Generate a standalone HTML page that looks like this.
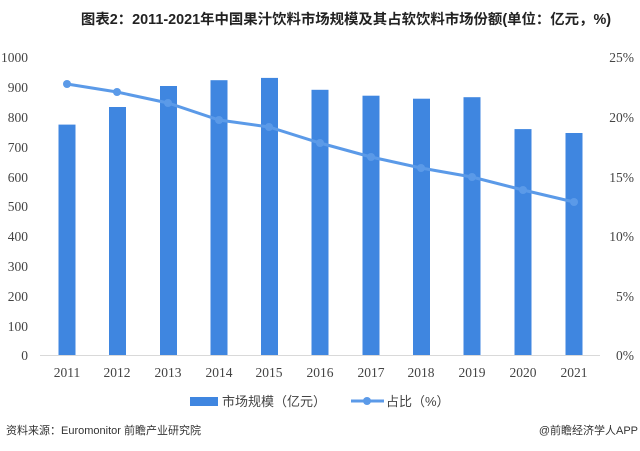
<!DOCTYPE html>
<html><head><meta charset="utf-8"><style>
body{margin:0;background:#fff;width:640px;height:446px;overflow:hidden}
</style></head><body>
<svg width="640" height="446" xmlns="http://www.w3.org/2000/svg">
<text x="346" y="24" text-anchor="middle" font-family="'Liberation Sans','Noto Sans CJK SC',sans-serif" font-size="14.4" font-weight="bold" fill="#222">图表2：2011-2021年中国果汁饮料市场规模及其占软饮料市场份额(单位：亿元，%)</text>
<g font-family="'Liberation Serif','Noto Serif CJK SC',serif" font-size="13.5" fill="#444">
<g text-anchor="end">
<text x="28" y="62">1000</text><text x="28" y="92">900</text><text x="28" y="122">800</text><text x="28" y="152">700</text><text x="28" y="182">600</text><text x="28" y="211">500</text><text x="28" y="241">400</text><text x="28" y="271">300</text><text x="28" y="301">200</text><text x="28" y="331">100</text><text x="28" y="360">0</text>
<text x="634" y="62">25%</text><text x="634" y="122">20%</text><text x="634" y="182">15%</text><text x="634" y="241">10%</text><text x="634" y="301">5%</text><text x="634" y="360">0%</text>
</g>
<g text-anchor="middle">
<text x="67" y="377">2011</text><text x="117" y="377">2012</text><text x="168" y="377">2013</text><text x="219" y="377">2014</text><text x="269" y="377">2015</text><text x="320" y="377">2016</text><text x="371" y="377">2017</text><text x="421" y="377">2018</text><text x="472" y="377">2019</text><text x="523" y="377">2020</text><text x="574" y="377">2021</text>
</g></g>
<line x1="40" y1="355.5" x2="600" y2="355.5" stroke="#d9d9d9"/>
<g fill="#3f86e0">
<rect x="58.5" y="124.6" width="17" height="230.4"/>
<rect x="109" y="107" width="17" height="248"/>
<rect x="160" y="86" width="17" height="269"/>
<rect x="210.5" y="80.2" width="17" height="274.8"/>
<rect x="261" y="77.9" width="17" height="277.1"/>
<rect x="311.5" y="89.8" width="17" height="265.2"/>
<rect x="362.5" y="95.7" width="17" height="259.3"/>
<rect x="413" y="98.7" width="17" height="256.3"/>
<rect x="463.5" y="97.2" width="17" height="257.8"/>
<rect x="514.5" y="129.1" width="17" height="225.9"/>
<rect x="565.5" y="133" width="17" height="222"/>
</g>
<polyline fill="none" stroke="#5b9ae8" stroke-width="3" points="67,84 117,92 168,103 219,120 269,127 320,143 371,157 421,168 472,177 523,190 574,202"/>
<g fill="#5b9ae8">
<circle cx="67" cy="84" r="4"/><circle cx="117" cy="92" r="4"/><circle cx="168" cy="103" r="4"/><circle cx="219" cy="120" r="4"/><circle cx="269" cy="127" r="4"/><circle cx="320" cy="143" r="4"/><circle cx="371" cy="157" r="4"/><circle cx="421" cy="168" r="4"/><circle cx="472" cy="177" r="4"/><circle cx="523" cy="190" r="4"/><circle cx="574" cy="202" r="4"/>
</g>
<rect x="190" y="397" width="28" height="9" fill="#3f86e0"/>
<text x="222" y="406" font-family="'Liberation Sans','Noto Sans CJK SC',sans-serif" font-size="13" fill="#444">市场规模（亿元）</text>
<line x1="351" y1="401" x2="384" y2="401" stroke="#5b9ae8" stroke-width="3"/>
<circle cx="367" cy="401" r="4" fill="#5b9ae8"/>
<text x="386" y="406" font-family="'Liberation Sans','Noto Sans CJK SC',sans-serif" font-size="13" fill="#444">占比（%）</text>
<text x="6" y="434" font-family="'Liberation Sans','Noto Sans CJK SC',sans-serif" font-size="11" fill="#333">资料来源：Euromonitor 前瞻产业研究院</text>
<text x="638" y="434" text-anchor="end" font-family="'Liberation Sans','Noto Sans CJK SC',sans-serif" font-size="11" fill="#333">@前瞻经济学人APP</text>
</svg>
</body></html>
